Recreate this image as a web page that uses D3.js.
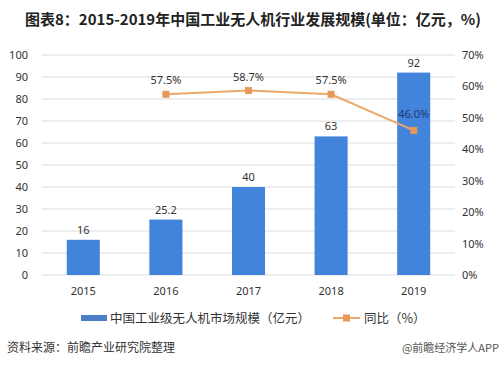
<!DOCTYPE html>
<html>
<head>
<meta charset="utf-8">
<script src="https://cdn.jsdelivr.net/npm/d3@7"></script>
<style>
  html, body { margin: 0; padding: 0; background: #fff; }
  svg { display: block; font-family: "Noto Sans CJK SC", "Noto Sans", sans-serif; }
</style>
</head>
<body>
<div id="chart"></div>
<script>
// 数据
const years = ["2015", "2016", "2017", "2018", "2019"];
const marketSize = [16, 25.2, 40, 63, 92];          // 亿元
const growth = [null, 57.5, 58.7, 57.5, 46.0];      // 同比 %
const leftTicks = [0, 10, 20, 30, 40, 50, 60, 70, 80, 90, 100];
const rightTicks = [0, 10, 20, 30, 40, 50, 60, 70];

const width = 499, height = 367;
const colors = { bar: "#4283dc", line: "#eda868", marker: "#e8995a", text: "#333", grid: "#dcdcdc" };

const svg = d3.select("#chart").append("svg")
    .attr("width", width).attr("height", height);

// 标题
svg.append("text")
    .attr("x", 253).attr("y", 25)
    .attr("text-anchor", "middle")
    .style("font-size", "15px").style("font-weight", "bold").style("fill", "#222")
    .text("图表8：2015-2019年中国工业无人机行业发展规模(单位：亿元，%)");

const plot = { left: 42, right: 455, top: 55, bottom: 275 };

const x = d3.scaleBand().domain(years).range([plot.left, plot.right]).paddingInner(0.6).paddingOuter(0.3);
const yL = d3.scaleLinear().domain([0, 100]).range([plot.bottom, plot.top]);
const yR = d3.scaleLinear().domain([0, 70]).range([plot.bottom, plot.top]);

// 网格线
svg.append("g").selectAll("line")
    .data(leftTicks)
    .join("line")
    .attr("x1", plot.left).attr("x2", plot.right)
    .attr("y1", d => yL(d)).attr("y2", d => yL(d))
    .attr("stroke", colors.grid).attr("stroke-width", 1);

// 左轴
const axL = svg.append("g")
    .attr("transform", `translate(${plot.left - 14},0)`)
    .call(d3.axisLeft(yL).tickValues(leftTicks).tickSize(0).tickPadding(0));
axL.select(".domain").remove();
axL.selectAll("text").style("font-size", "11px").style("fill", colors.text).style("font-family", "Noto Sans, sans-serif");

// 右轴
const axR = svg.append("g")
    .attr("transform", `translate(${plot.right + 7},0)`)
    .call(d3.axisRight(yR).tickValues(rightTicks).tickSize(0).tickPadding(0).tickFormat(d => d + "%"));
axR.select(".domain").remove();
axR.selectAll("text").style("font-size", "11px").style("fill", colors.text).style("font-family", "Noto Sans, sans-serif");

// 横轴
const axX = svg.append("g")
    .attr("transform", `translate(0,${plot.bottom + 10})`)
    .call(d3.axisBottom(x).tickSize(0).tickPadding(2));
axX.select(".domain").remove();
axX.selectAll("text").style("font-size", "11px").style("fill", colors.text).style("font-family", "Noto Sans, sans-serif");

// 柱
const data = years.map((y, i) => ({ year: y, value: marketSize[i], growth: growth[i] }));

svg.append("g").selectAll("rect")
    .data(data)
    .join("rect")
    .attr("x", d => x(d.year))
    .attr("y", d => yL(d.value))
    .attr("width", x.bandwidth())
    .attr("height", d => yL(0) - yL(d.value))
    .attr("fill", colors.bar);

svg.append("g").selectAll("text")
    .data(data)
    .join("text")
    .attr("x", d => x(d.year) + x.bandwidth() / 2)
    .attr("y", d => yL(d.value) - 6)
    .attr("text-anchor", "middle")
    .style("font-size", "11px").style("fill", colors.text).style("font-family", "Noto Sans, sans-serif")
    .text(d => d.value);

// 折线
const lineData = data.filter(d => d.growth !== null);
const line = d3.line()
    .x(d => x(d.year) + x.bandwidth() / 2)
    .y(d => yR(d.growth));

svg.append("path")
    .datum(lineData)
    .attr("d", line)
    .attr("fill", "none")
    .attr("stroke", colors.line)
    .attr("stroke-width", 2);

svg.append("g").selectAll("rect")
    .data(lineData)
    .join("rect")
    .attr("x", d => x(d.year) + x.bandwidth() / 2 - 3.5)
    .attr("y", d => yR(d.growth) - 3.5)
    .attr("width", 7).attr("height", 7)
    .attr("fill", colors.marker);

svg.append("g").selectAll("text")
    .data(lineData)
    .join("text")
    .attr("x", d => x(d.year) + x.bandwidth() / 2)
    .attr("y", d => yR(d.growth) - (d.year === "2019" ? 12 : 10))
    .attr("text-anchor", "middle")
    .style("font-size", "11px")
    .style("fill", d => d.year === "2019" ? "#1d3a73" : colors.text)
    .style("font-family", "Noto Sans, sans-serif")
    .text(d => d.growth.toFixed(1) + "%");

// 图例
const legend = svg.append("g").attr("transform", "translate(0,318)");
legend.append("rect")
    .attr("x", 81).attr("y", -3).attr("width", 26).attr("height", 6)
    .attr("fill", "#4a7fc8");
legend.append("text")
    .attr("x", 110).attr("y", 4.5)
    .style("font-size", "12.5px").style("fill", colors.text)
    .text("中国工业级无人机市场规模（亿元）");
legend.append("line")
    .attr("x1", 333).attr("x2", 360).attr("y1", 0).attr("y2", 0)
    .attr("stroke", colors.line).attr("stroke-width", 2);
legend.append("rect")
    .attr("x", 343).attr("y", -3.5).attr("width", 7).attr("height", 7)
    .attr("fill", colors.marker);
legend.append("text")
    .attr("x", 364).attr("y", 4.5)
    .style("font-size", "12.5px").style("fill", colors.text)
    .text("同比（%）");

// 来源
svg.append("text")
    .attr("x", 7).attr("y", 352)
    .style("font-size", "12px").style("fill", "#333")
    .text("资料来源：前瞻产业研究院整理");

svg.append("text")
    .attr("x", 499).attr("y", 352)
    .attr("text-anchor", "end")
    .style("font-size", "11px").style("fill", "#555")
    .text("@前瞻经济学人APP");
</script>
</body>
</html>
